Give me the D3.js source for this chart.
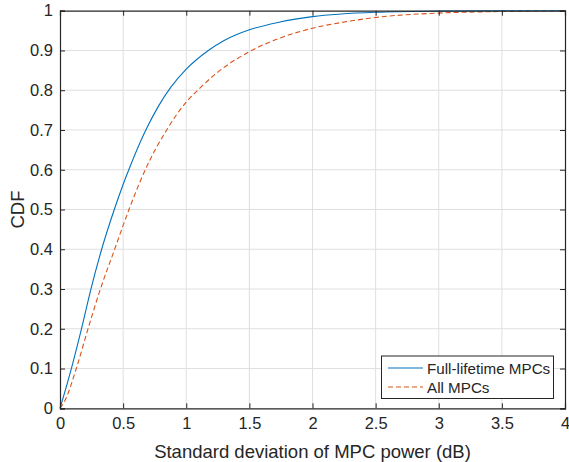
<!DOCTYPE html>
<html>
<head>
<meta charset="utf-8">
<script src="https://d3js.org/d3.v7.min.js"></script>
<style>
  body { margin: 0; background: #fff; }
  text { font-family: "Liberation Sans", Arial, sans-serif; fill: #262626; }
</style>
</head>
<body>
<script>
// values
var fullX = [0, 0.09, 0.17, 0.245, 0.33, 0.43, 0.5, 0.545, 0.674, 0.78, 0.877, 1.0, 1.175, 1.3, 1.5, 1.75, 2.0, 2.5, 3.0, 3.5, 4.0];
var fullY = [0, 0.1, 0.2, 0.3, 0.4, 0.5, 0.563, 0.6, 0.696, 0.76, 0.807, 0.853, 0.9, 0.925, 0.952, 0.972, 0.985, 0.996, 0.999, 1.0, 1.0];
var allX = [0, 0.04, 0.129, 0.222, 0.32, 0.433, 0.5, 0.55, 0.69, 0.845, 0.92, 1.0, 1.11, 1.24, 1.5, 1.75, 2.0, 2.3, 2.5, 3.0, 3.5, 4.0];
var allY = [0, 0.02, 0.1, 0.2, 0.3, 0.4, 0.46, 0.503, 0.61, 0.70, 0.737, 0.77, 0.806, 0.843, 0.897, 0.932, 0.956, 0.974, 0.983, 0.994, 0.998, 1.0];
var seriesNames = ["Full-lifetime MPCs", "All MPCs"];
var xTicks = [0, 0.5, 1, 1.5, 2, 2.5, 3, 3.5, 4];
var yTicks = [0, 0.1, 0.2, 0.3, 0.4, 0.5, 0.6, 0.7, 0.8, 0.9, 1];

var W = 569, H = 462;
var mLeft = 60, mRight = 565, mTop = 10.7, mBottom = 408.3;

var svg = d3.select("body").append("svg").attr("width", W).attr("height", H);

var x = d3.scaleLinear().domain([0, 4]).range([mLeft, mRight]);
var y = d3.scaleLinear().domain([0, 1]).range([mBottom, mTop]);

// grid
svg.append("g").selectAll("line").data(xTicks.slice(1, -1)).enter().append("line")
    .attr("x1", function(d) { return x(d); }).attr("x2", function(d) { return x(d); })
    .attr("y1", mTop).attr("y2", mBottom)
    .attr("stroke", "#dfdfdf").attr("stroke-width", 1);
svg.append("g").selectAll("line").data(yTicks.slice(1, -1)).enter().append("line")
    .attr("y1", function(d) { return y(d); }).attr("y2", function(d) { return y(d); })
    .attr("x1", mLeft).attr("x2", mRight)
    .attr("stroke", "#dfdfdf").attr("stroke-width", 1);

// curves
var line = d3.line()
    .x(function(d) { return x(d[0]); })
    .y(function(d) { return y(d[1]); })
    .curve(d3.curveMonotoneX);

svg.append("path").datum(d3.zip(allX, allY))
    .attr("d", line).attr("fill", "none")
    .attr("stroke", "#D95319").attr("stroke-width", 1.1).attr("stroke-dasharray", "5,3");
svg.append("path").datum(d3.zip(fullX, fullY))
    .attr("d", line).attr("fill", "none")
    .attr("stroke", "#0072BD").attr("stroke-width", 1.1);

// axes (ticks inward, box on)
var xAxis = d3.axisBottom(x).tickValues(xTicks).tickSize(-5).tickPadding(9)
    .tickFormat(function(d) { return d3.format("")(d); });
var yAxis = d3.axisLeft(y).tickValues(yTicks).tickSize(-5).tickPadding(7)
    .tickFormat(function(d) { return d3.format("")(d); });

var gx = svg.append("g").attr("transform", "translate(0," + mBottom + ")").call(xAxis);
var gy = svg.append("g").attr("transform", "translate(" + mLeft + ",0)").call(yAxis);
var gxt = svg.append("g").attr("transform", "translate(0," + mTop + ")")
    .call(d3.axisTop(x).tickValues(xTicks).tickSize(-5).tickFormat(""));
var gyr = svg.append("g").attr("transform", "translate(" + mRight + ",0)")
    .call(d3.axisRight(y).tickValues(yTicks).tickSize(-5).tickFormat(""));

[gx, gy, gxt, gyr].forEach(function(g) {
    g.select(".domain").attr("stroke", "#262626").attr("stroke-width", 1.2);
    g.selectAll(".tick line").attr("stroke", "#262626");
    g.selectAll("text").style("font-size", "16.5px").attr("fill", "#262626")
        .style("font-family", "'Liberation Sans', Arial, sans-serif");
});

svg.append("text").attr("x", (mLeft + mRight) / 2).attr("y", 458)
    .attr("text-anchor", "middle").style("font-size", "18.5px")
    .text("Standard deviation of MPC power (dB)");
svg.append("text").attr("transform", "translate(24," + ((mTop + mBottom) / 2) + ") rotate(-90)")
    .attr("text-anchor", "middle").style("font-size", "18.5px")
    .text("CDF");

// legend
var lg = svg.append("g");
lg.append("rect").attr("x", 381.5).attr("y", 356).attr("width", 172).attr("height", 42.5)
    .attr("fill", "#fff").attr("stroke", "#262626").attr("stroke-width", 1);
var styles = [{ c: "#0072BD", dash: null }, { c: "#D95319", dash: "5,3" }];
seriesNames.forEach(function(name, i) {
    var yy = 368 + i * 19;
    lg.append("line").attr("x1", 388).attr("x2", 423).attr("y1", yy).attr("y2", yy)
        .attr("stroke", styles[i].c).attr("stroke-width", 1.1)
        .attr("stroke-dasharray", styles[i].dash);
    lg.append("text").attr("x", 427).attr("y", yy + 5.5).style("font-size", "15.2px")
        .text(name);
});
</script>
</body>
</html>
